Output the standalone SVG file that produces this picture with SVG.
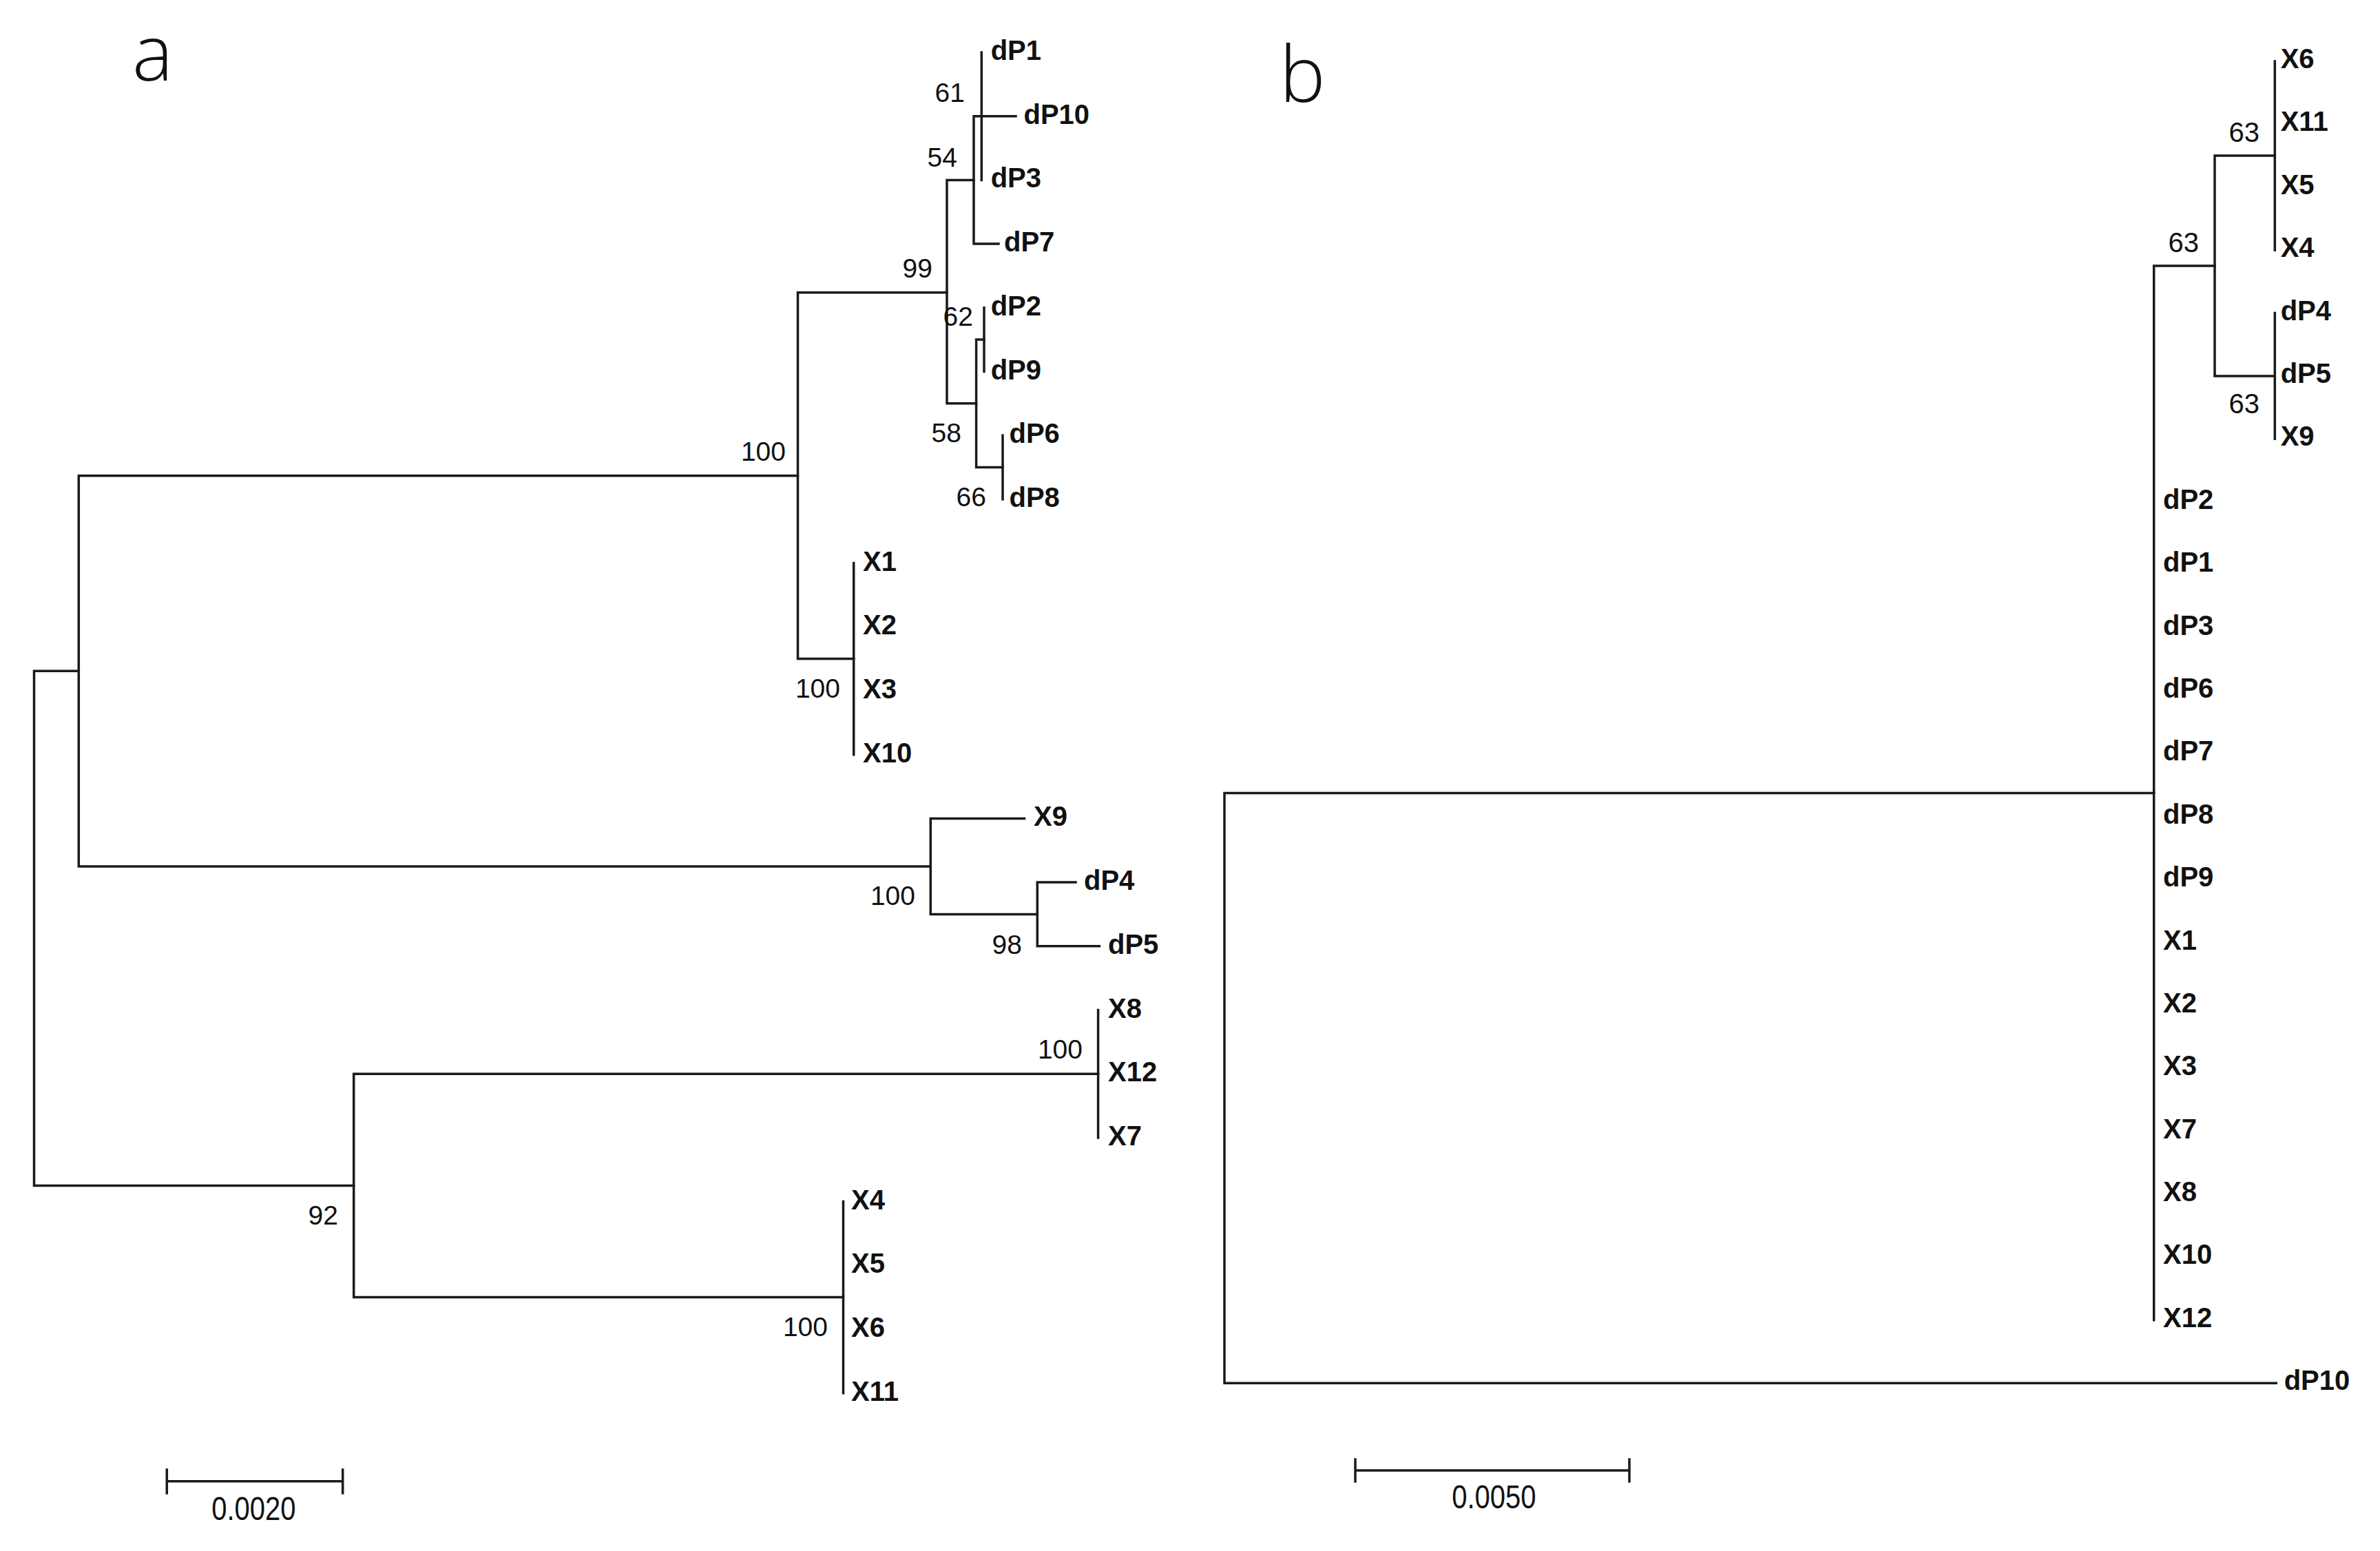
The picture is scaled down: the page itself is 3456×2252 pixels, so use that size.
<svg xmlns="http://www.w3.org/2000/svg" width="3456" height="2252" viewBox="0 0 3456 2252">
<style>
.br{fill:none;stroke:#1a1a1a;stroke-width:3.5;stroke-linecap:square;stroke-linejoin:miter}
.lf{font-family:"Liberation Sans",Arial,sans-serif;font-weight:bold;font-size:40px;fill:#111}
.bs{font-family:"Liberation Sans",Arial,sans-serif;font-size:39px;fill:#111;text-anchor:end}
.bsb{font-family:"Liberation Sans",Arial,sans-serif;font-size:40px;fill:#111;text-anchor:end}
.sc{font-family:"Liberation Sans",Arial,sans-serif;font-size:40px;fill:#111;text-anchor:middle}
.pl{font-family:"Open Sans",Lato,"DejaVu Sans",sans-serif;font-weight:300;font-size:112px;fill:#111}
</style>
<rect width="3456" height="2252" fill="#fff"/>
<text class="pl" x="192" y="117">a</text>
<text class="pl" x="1858" y="148">b</text>

<g id="connectors">
<!-- tree a -->
<path class="br" d="M114.3,974.3 H49.5 V1721.4 H513.7"/>
<path class="br" d="M1158.5,690.7 H114.3 V1257.9 H1351.3"/>
<path class="br" d="M1375,424.7 H1158.5 V956.6 H1239.7"/>
<path class="br" d="M1414,261.4 H1375 V585.8 H1417.6"/>
<path class="br" d="M1475,168.7 H1414 V354.1 H1450"/>
<path class="br" d="M1425.3,76 V261.4"/>
<path class="br" d="M1429,446.8 V539.5"/>
<path class="br" d="M1429,493 H1417.6 V678.5 H1456"/>
<path class="br" d="M1456,632.2 V724.9"/>
<path class="br" d="M1239.7,817.6 V1095.7"/>
<path class="br" d="M1487.5,1188.4 H1351.3 V1327.5 H1506.3"/>
<path class="br" d="M1562,1281.1 H1506.3 V1373.8 H1596.4"/>
<path class="br" d="M1594.6,1559.2 H513.7 V1883.6 H1224.5"/>
<path class="br" d="M1594.6,1466.5 V1651.9"/>
<path class="br" d="M1224.5,1744.6 V2022.7"/>
<!-- tree b -->
<path class="br" d="M3303.3,89 V363.2"/>
<path class="br" d="M3303.3,454.6 V637.3"/>
<path class="br" d="M3303.3,226.1 H3216 V546 H3303.3"/>
<path class="br" d="M3216,386 H3127.7 V1916.8"/>
<path class="br" d="M3127.7,1151.4 H1778 V2008.2 H3305.3"/>
<!-- scale bars -->
<path class="br" d="M242.3,2150.7 H497.7 M242.3,2134 V2168 M497.7,2134 V2168"/>
<path class="br" d="M1968,2135 H2366 M1968,2119 V2151 M2366,2119 V2151"/>
</g>

<g id="tree-a-leaves">
<g id="a-dP1"><text class="lf" x="1438.7" y="87">dP1</text></g>
<g id="a-dP10"><text class="lf" x="1486.5" y="179.7">dP10</text></g>
<g id="a-dP3"><text class="lf" x="1438.7" y="272.4">dP3</text></g>
<g id="a-dP7"><text class="lf" x="1458" y="365.1">dP7</text></g>
<g id="a-dP2"><text class="lf" x="1438.7" y="457.8">dP2</text></g>
<g id="a-dP9"><text class="lf" x="1438.7" y="550.5">dP9</text></g>
<g id="a-dP6"><text class="lf" x="1465.5" y="643.2">dP6</text></g>
<g id="a-dP8"><text class="lf" x="1465.5" y="735.9">dP8</text></g>
<g id="a-X1"><text class="lf" x="1253" y="828.6">X1</text></g>
<g id="a-X2"><text class="lf" x="1253" y="921.3">X2</text></g>
<g id="a-X3"><text class="lf" x="1253" y="1014">X3</text></g>
<g id="a-X10"><text class="lf" x="1253" y="1106.7">X10</text></g>
<g id="a-X9"><text class="lf" x="1501" y="1199.4">X9</text></g>
<g id="a-dP4"><text class="lf" x="1574" y="1292.1">dP4</text></g>
<g id="a-dP5"><text class="lf" x="1609" y="1384.8">dP5</text></g>
<g id="a-X8"><text class="lf" x="1609" y="1477.5">X8</text></g>
<g id="a-X12"><text class="lf" x="1609" y="1570.2">X12</text></g>
<g id="a-X7"><text class="lf" x="1609" y="1662.9">X7</text></g>
<g id="a-X4"><text class="lf" x="1236" y="1755.6">X4</text></g>
<g id="a-X5"><text class="lf" x="1236" y="1848.3">X5</text></g>
<g id="a-X6"><text class="lf" x="1236" y="1941">X6</text></g>
<g id="a-X11"><text class="lf" x="1236" y="2033.7">X11</text></g>
</g>

<g id="tree-a-support">
<text class="bs" x="1401" y="148">61</text>
<text class="bs" x="1390" y="242">54</text>
<text class="bs" x="1354" y="403">99</text>
<text class="bs" x="1413" y="473">62</text>
<text class="bs" x="1396" y="642">58</text>
<text class="bs" x="1432" y="735">66</text>
<text class="bs" x="1141" y="669">100</text>
<text class="bs" x="1220" y="1013">100</text>
<text class="bs" x="1329" y="1314">100</text>
<text class="bs" x="1484" y="1385">98</text>
<text class="bs" x="1572" y="1537">100</text>
<text class="bs" x="491" y="1778">92</text>
<text class="bs" x="1202" y="1940">100</text>
</g>

<g id="tree-b-leaves">
<g id="b-X6"><text class="lf" x="3311.7" y="99">X6</text></g>
<g id="b-X11"><text class="lf" x="3311.7" y="190.4">X11</text></g>
<g id="b-X5"><text class="lf" x="3311.7" y="281.8">X5</text></g>
<g id="b-X4"><text class="lf" x="3311.7" y="373.2">X4</text></g>
<g id="b-dP4"><text class="lf" x="3311.7" y="464.6">dP4</text></g>
<g id="b-dP5"><text class="lf" x="3311.7" y="556">dP5</text></g>
<g id="b-X9"><text class="lf" x="3311.7" y="647.3">X9</text></g>
<g id="b-dP2"><text class="lf" x="3141" y="738.7">dP2</text></g>
<g id="b-dP1"><text class="lf" x="3141" y="830.1">dP1</text></g>
<g id="b-dP3"><text class="lf" x="3141" y="921.5">dP3</text></g>
<g id="b-dP6"><text class="lf" x="3141" y="1012.9">dP6</text></g>
<g id="b-dP7"><text class="lf" x="3141" y="1104.3">dP7</text></g>
<g id="b-dP8"><text class="lf" x="3141" y="1195.7">dP8</text></g>
<g id="b-dP9"><text class="lf" x="3141" y="1287.1">dP9</text></g>
<g id="b-X1"><text class="lf" x="3141" y="1378.5">X1</text></g>
<g id="b-X2"><text class="lf" x="3141" y="1469.9">X2</text></g>
<g id="b-X3"><text class="lf" x="3141" y="1561.2">X3</text></g>
<g id="b-X7"><text class="lf" x="3141" y="1652.6">X7</text></g>
<g id="b-X8"><text class="lf" x="3141" y="1744">X8</text></g>
<g id="b-X10"><text class="lf" x="3141" y="1835.4">X10</text></g>
<g id="b-X12"><text class="lf" x="3141" y="1926.8">X12</text></g>
<g id="b-dP10"><text class="lf" x="3316.7" y="2018.2">dP10</text></g>
</g>

<g id="tree-b-support">
<text class="bsb" x="3281" y="206">63</text>
<text class="bsb" x="3193" y="366">63</text>
<text class="bsb" x="3281" y="600">63</text>
</g>

<g id="scale-labels">
<text class="sc" transform="translate(368.4,2207) scale(1,1.2)" x="0" y="0">0.0020</text>
<text class="sc" transform="translate(2169.3,2190) scale(1,1.2)" x="0" y="0">0.0050</text>
</g>
</svg>
